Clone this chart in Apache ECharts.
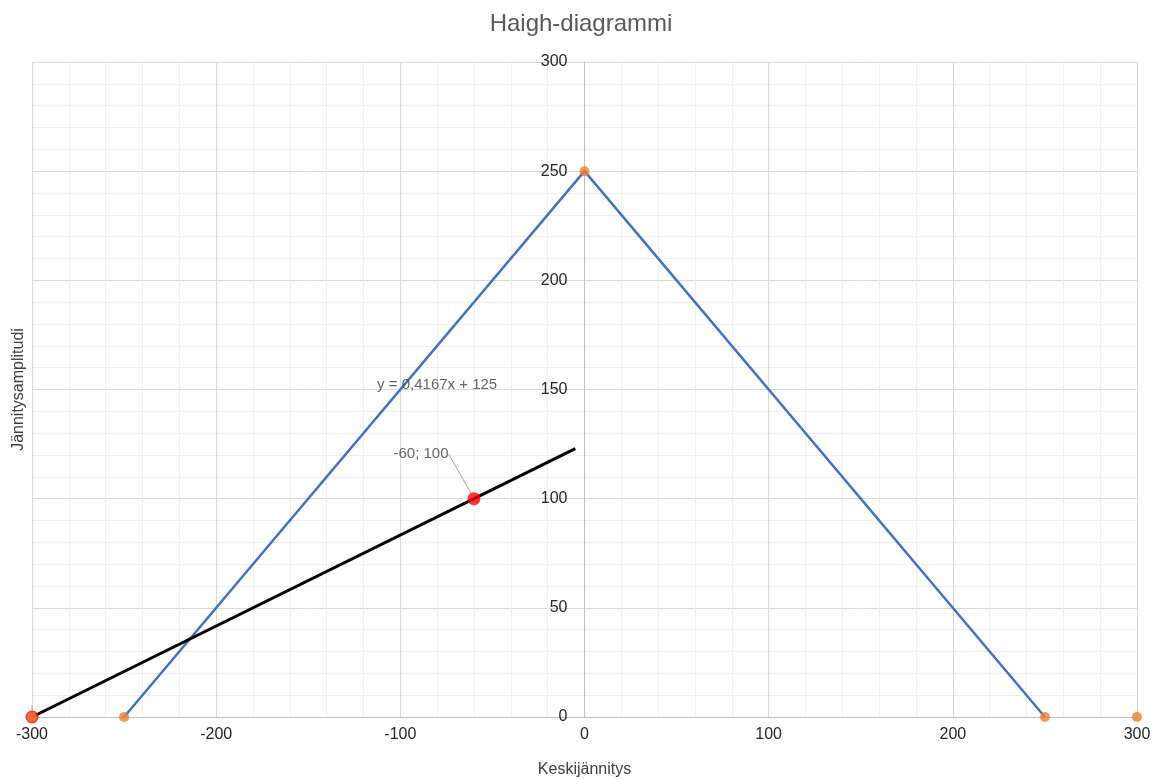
<!DOCTYPE html>
<html>
<head>
<meta charset="utf-8">
<script src="https://cdn.jsdelivr.net/npm/echarts@6/dist/echarts.min.js"></script>
<style>html,body{margin:0;padding:0;background:#fff}#c{width:1162px;height:779px}</style>
</head>
<body>
<div id="c"></div>
<script>
// Data
const haighLine = [[-250, 0], [0, 250], [250, 0]];
const haighPoints = [[-300, 0], [-250, 0], [0, 250], [250, 0], [300, 0]];
const loadLine = [[-300, 0], [-5, 122.9]];
const loadPoints = [[-300, 0], [-60, 100]];
const trendLabelPos = [[-80, 152]];
const trendText = 'y = 0,4167x + 125';
const xTicks = [-300, -200, -100, 0, 100, 200, 300];
const yTicks = [0, 50, 100, 150, 200, 250, 300];

const font = 'Liberation Sans, Arial, sans-serif';
const chart = echarts.init(document.getElementById('c'));
const gridLeft = 32, gridRight = 25;
const plotW = 1162 - gridLeft - gridRight;
const zeroOffset = -plotW * (0 - xTicks[0]) / (xTicks[xTicks.length - 1] - xTicks[0]);
chart.setOption({
  animation: false,
  title: {
    text: 'Haigh-diagrammi', left: 'center', top: 7,
    textStyle: { fontFamily: font, fontSize: 24, fontWeight: 'normal', color: '#595959' }
  },
  grid: { left: gridLeft, right: gridRight, top: 62, bottom: 62, containLabel: false, outerBoundsMode: 'none' },
  xAxis: {
    type: 'value', min: xTicks[0], max: xTicks[xTicks.length - 1], interval: 100,
    name: 'Keskijännitys', nameLocation: 'middle', nameGap: 45,
    nameTextStyle: { fontFamily: font, fontSize: 16, color: '#404040' },
    axisLine: { show: true, onZero: false, lineStyle: { color: '#bfbfbf', width: 1 } },
    axisTick: { show: false },
    axisLabel: { fontFamily: font, fontSize: 16, color: '#262626', margin: 10 },
    splitLine: { show: true, lineStyle: { color: '#d9d9d9', width: 1 } },
    minorTick: { show: false, splitNumber: 5 },
    minorSplitLine: { show: true, lineStyle: { color: '#f0f0f0', width: 1 } }
  },
  yAxis: [{
    type: 'value', min: yTicks[0], max: yTicks[yTicks.length - 1], interval: 50,
    position: 'left', offset: zeroOffset,
    axisLine: { show: true, onZero: false, lineStyle: { color: '#bfbfbf', width: 1 } },
    axisTick: { show: false },
    axisLabel: { fontFamily: font, fontSize: 16, color: '#262626', margin: 17 },
    splitLine: { show: true, lineStyle: { color: '#d9d9d9', width: 1 } },
    minorTick: { show: false, splitNumber: 5 },
    minorSplitLine: { show: true, lineStyle: { color: '#f0f0f0', width: 1 } }
  }, {
    type: 'value', min: yTicks[0], max: yTicks[yTicks.length - 1], interval: 50,
    position: 'left',
    name: 'Jännitysamplitudi', nameLocation: 'middle', nameGap: 5,
    nameTextStyle: { fontFamily: font, fontSize: 16, color: '#404040' },
    axisLine: { show: false }, axisTick: { show: false }, axisLabel: { show: false },
    splitLine: { show: false }
  }],
  series: [
    {
      type: 'line', data: haighLine, symbol: 'none', z: 2,
      lineStyle: { color: '#4472C4', width: 2.5 }
    },
    {
      type: 'line', data: loadLine, symbol: 'none', z: 3,
      lineStyle: { color: '#000000', width: 3 }
    },
    {
      type: 'scatter', data: loadPoints, symbolSize: 13, z: 4,
      itemStyle: { color: '#FF0000' },
      label: {
        show: true, position: 'top', fontFamily: font, fontSize: 15, color: '#404040',
        formatter: p => p.value[0] === -60 ? p.value[0] + '; ' + p.value[1] : ''
      },
      labelLayout: p => p.dataIndex === 1 ? { dx: -53, dy: -26 } : {},
      labelLine: { show: true, lineStyle: { color: '#a6a6a6', width: 1 } }
    },
    {
      type: 'scatter', data: haighPoints, symbolSize: 10, z: 5,
      itemStyle: { color: '#ED7D31' }
    },
    {
      type: 'scatter', data: trendLabelPos, symbolSize: 1, z: 6,
      itemStyle: { color: 'rgba(0,0,0,0)' }, silent: true,
      label: {
        show: true, position: 'inside', formatter: trendText,
        fontFamily: font, fontSize: 15, color: '#404040'
      }
    }
  ]
});
</script>
</body>
</html>
